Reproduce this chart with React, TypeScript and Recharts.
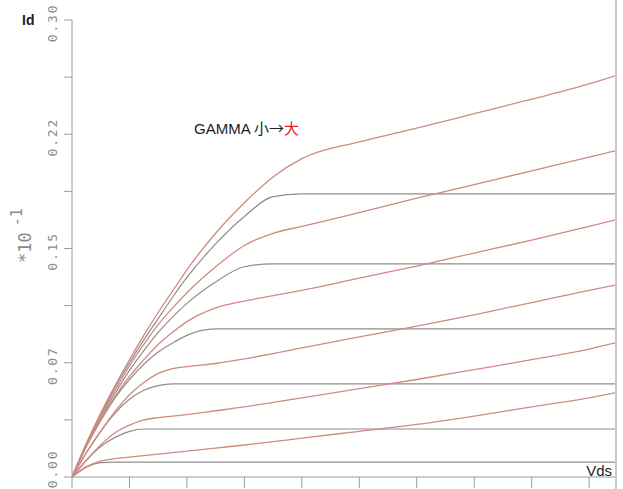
import { LineChart, Line, XAxis, YAxis } from 'recharts'

// Vds sample points (axis units, tick every 1)
const vds = [0, 0.25, 0.5, 0.75, 1, 1.25, 1.5, 1.75, 2, 2.5, 3, 3.5, 4, 5, 6, 7, 8, 9, 9.45]

// saturating curves (gray), Id in units of 1e-1
const gray1 = [0, 0.0065, 0.0095, 0.0098, 0.0098, 0.0098, 0.0098, 0.0098, 0.0098, 0.0098, 0.0098, 0.0098, 0.0098, 0.0098, 0.0098, 0.0098, 0.0098, 0.0098, 0.0098]
const gray2 = [0, 0.011, 0.02, 0.026, 0.03, 0.0315, 0.0315, 0.0315, 0.0315, 0.0315, 0.0315, 0.0315, 0.0315, 0.0315, 0.0315, 0.0315, 0.0315, 0.0315, 0.0315]
const gray3 = [0, 0.016, 0.03, 0.042, 0.051, 0.057, 0.06, 0.0611, 0.0611, 0.0611, 0.0611, 0.0611, 0.0611, 0.0611, 0.0611, 0.0611, 0.0611, 0.0611, 0.0611]
const gray4 = [0, 0.02, 0.037, 0.052, 0.064, 0.074, 0.082, 0.088, 0.093, 0.0972, 0.0972, 0.0972, 0.0972, 0.0972, 0.0972, 0.0972, 0.0972, 0.0972, 0.0972]
const gray5 = [0, 0.021, 0.039, 0.055, 0.07, 0.083, 0.095, 0.105, 0.114, 0.128, 0.138, 0.1399, 0.1399, 0.1399, 0.1399, 0.1399, 0.1399, 0.1399, 0.1399]
const gray6 = [0, 0.022, 0.041, 0.059, 0.075, 0.09, 0.104, 0.118, 0.131, 0.153, 0.171, 0.184, 0.1858, 0.1858, 0.1858, 0.1858, 0.1858, 0.1858, 0.1858]

// curves with larger GAMMA (red)
const red1 = [0, 0.0068, 0.0105, 0.012, 0.013, 0.014, 0.015, 0.016, 0.017, 0.019, 0.021, 0.0232, 0.0255, 0.03, 0.0345, 0.04, 0.046, 0.052, 0.0552]
const red2 = [0, 0.011, 0.021, 0.029, 0.034, 0.0375, 0.039, 0.04, 0.041, 0.0435, 0.046, 0.049, 0.052, 0.058, 0.064, 0.0705, 0.077, 0.084, 0.088]
const red3 = [0, 0.016, 0.03, 0.043, 0.054, 0.062, 0.068, 0.0712, 0.0725, 0.0745, 0.0775, 0.081, 0.0847, 0.092, 0.099, 0.1065, 0.1145, 0.1225, 0.126]
const red4 = [0, 0.02, 0.038, 0.053, 0.066, 0.077, 0.087, 0.095, 0.102, 0.111, 0.1155, 0.119, 0.1225, 0.1305, 0.1385, 0.147, 0.1555, 0.1645, 0.1687]
const red5 = [0, 0.021, 0.04, 0.057, 0.073, 0.087, 0.1, 0.111, 0.121, 0.138, 0.152, 0.16, 0.1645, 0.1735, 0.183, 0.192, 0.201, 0.21, 0.2141]
const red6 = [0, 0.022, 0.042, 0.06, 0.077, 0.093, 0.108, 0.122, 0.136, 0.16, 0.18, 0.197, 0.209, 0.22, 0.229, 0.2385, 0.248, 0.258, 0.2633]

const xTicks = [0, 1, 2, 3, 4, 5, 6, 7, 8, 9]
const yTicks = [0, 0.0375, 0.075, 0.1125, 0.15, 0.1875, 0.225, 0.2625, 0.3]
const yTickLabels = ['0.00', '', '0.07', '', '0.15', '', '0.22', '', '0.30']

const grays = [gray1, gray2, gray3, gray4, gray5, gray6]
const reds = [red1, red2, red3, red4, red5, red6]

const data = vds.map((v, i) => {
  const row: Record<string, number> = { vds: v }
  grays.forEach((s, k) => (row['g' + k] = s[i]))
  reds.forEach((s, k) => (row['r' + k] = s[i]))
  return row
})

const AXIS = '#9a9a9a'

function YTick(props: any) {
  const { y, payload } = props
  const idx = yTicks.indexOf(payload.value)
  const label = yTickLabels[idx]
  if (!label) return null
  // keep the bottom label inside the picture
  const cy = Math.min(y + 3, 469)
  return (
    <text
      transform={`translate(52, ${cy}) rotate(-90)`}
      textAnchor="middle"
      dominantBaseline="central"
      fontFamily="DejaVu Sans Mono"
      fontSize={13}
      letterSpacing={1.8}
      fill="#8c8c8c"
    >
      {label}
    </text>
  )
}

export default function App() {
  return (
    <div style={{ position: 'absolute', left: 0, top: 0, width: 623, height: 489, background: '#fff' }}>
      <LineChart width={623} height={489} data={data} margin={{ top: 20, right: 8, bottom: 0, left: 0 }}>
        <XAxis
          type="number"
          dataKey="vds"
          domain={[0, 9.45]}
          ticks={xTicks}
          allowDataOverflow
          height={12}
          tickFormatter={() => ''}
          tickSize={11}
          stroke={AXIS}
        />
        <YAxis
          type="number"
          domain={[0, 0.3]}
          ticks={yTicks}
          width={72}
          tickSize={8}
          tick={<YTick />}
          stroke={AXIS}
        />
        {grays.map((_, k) => (
          <Line key={'g' + k} type="monotone" dataKey={'g' + k} stroke="#8e8e8e" strokeWidth={1.2} dot={false} isAnimationActive={false} />
        ))}
        {reds.map((_, k) => (
          <Line key={'r' + k} type="monotone" dataKey={'r' + k} stroke="#d08a80" strokeWidth={1.3} dot={false} isAnimationActive={false} />
        ))}
      </LineChart>
      <svg width={623} height={489} style={{ position: 'absolute', left: 0, top: 0, pointerEvents: 'none' }}>
        <line x1={616} y1={0} x2={616} y2={489} stroke="#c8c8c8" strokeWidth={2} />
        <text x={22} y={25} fontFamily="Liberation Sans" fontSize={14} fontWeight="bold" fill="#222">Id</text>
        <text x={612} y={476} textAnchor="end" fontFamily="Liberation Sans" fontSize={15} fill="#222">Vds</text>
        <text transform="translate(31, 263) rotate(-90)" fontFamily="DejaVu Sans Mono" fontSize={17} fill="#8c8c8c">
          *10<tspan dx={6} dy={-9} fontSize={15}>-1</tspan>
        </text>
        <text x={194} y={134} fontFamily="Liberation Sans" fontSize={15} fill="#222">
          GAMMA <tspan fontFamily="Noto Sans CJK SC">小→</tspan>
          <tspan fontFamily="Noto Sans CJK SC" fill="#e8202a">大</tspan>
        </text>
      </svg>
    </div>
  )
}
